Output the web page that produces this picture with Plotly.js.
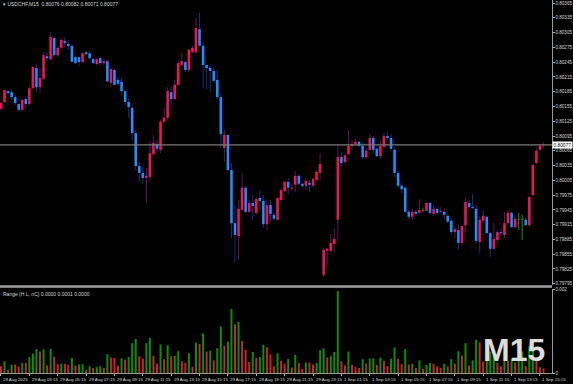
<!DOCTYPE html>
<html><head><meta charset="utf-8">
<script src="https://cdn.plot.ly/plotly-3.0.1.min.js"></script>
<style>html,body{margin:0;padding:0;background:#000;overflow:hidden}#chart{width:573px;height:384px}</style>
</head><body><div id="chart"></div>
<script>
const symbol = 'USDCHF,M15';
const timeframe = 'M15';
const opens = [0.80150,0.80164,0.80186,0.80184,0.80174,0.80160,0.80148,0.80170,0.80160,0.80192,
0.80233,0.80194,0.80211,0.80257,0.80251,0.80294,0.80259,0.80274,0.80288,0.80282,
0.80278,0.80255,0.80255,0.80245,0.80265,0.80263,0.80251,0.80241,0.80253,0.80243,
0.80247,0.80203,0.80229,0.80209,0.80205,0.80186,0.80164,0.80152,0.80101,0.80034,
0.80020,0.80010,0.80012,0.80058,0.80079,0.80067,0.80124,0.80132,0.80184,0.80170,
0.80199,0.80239,0.80245,0.80229,0.80265,0.80265,0.80312,0.80278,0.80239,0.80233,
0.80227,0.80209,0.80174,0.80071,0.80097,0.80026,0.79918,0.79892,0.79945,0.79990,
0.79941,0.79959,0.79939,0.79969,0.79963,0.79916,0.79955,0.79935,0.79925,0.79965,
0.79983,0.80002,0.79988,0.79996,0.80014,0.79998,0.79994,0.80000,0.79994,0.80006,
0.80020,0.79813,0.79862,0.79862,0.79876,0.79925,0.80052,0.80042,0.80058,0.80075,
0.80079,0.80083,0.80075,0.80052,0.80067,0.80091,0.80069,0.80054,0.80073,0.80095,
0.80091,0.80067,0.80020,0.79994,0.79990,0.79941,0.79931,0.79941,0.79939,0.79943,
0.79943,0.79959,0.79937,0.79947,0.79941,0.79941,0.79933,0.79923,0.79900,0.79904,
0.79878,0.79914,0.79959,0.79951,0.79947,0.79880,0.79923,0.79931,0.79898,0.79866,
0.79884,0.79900,0.79894,0.79918,0.79939,0.79910,0.79925,0.79925,0.79925,0.79914,
0.79975,0.80040,0.80067,0.80076];
const highs = [0.80164,0.80190,0.80188,0.80188,0.80178,0.80161,0.80170,0.80176,0.80196,0.80237,
0.80241,0.80233,0.80265,0.80265,0.80306,0.80296,0.80276,0.80294,0.80296,0.80290,
0.80280,0.80259,0.80257,0.80265,0.80267,0.80267,0.80253,0.80253,0.80255,0.80251,
0.80249,0.80232,0.80233,0.80215,0.80213,0.80190,0.80170,0.80158,0.80107,0.80042,
0.80032,0.80030,0.80085,0.80097,0.80087,0.80128,0.80152,0.80194,0.80196,0.80209,
0.80249,0.80265,0.80249,0.80272,0.80278,0.80335,0.80345,0.80286,0.80241,0.80237,
0.80233,0.80229,0.80182,0.80107,0.80099,0.80040,0.79955,0.79965,0.80020,0.79994,
0.79965,0.79975,0.79971,0.79985,0.79975,0.79965,0.79965,0.79939,0.79971,0.79990,
0.80004,0.80010,0.79998,0.80024,0.80018,0.80000,0.80010,0.80006,0.80010,0.80026,
0.80060,0.79868,0.79868,0.79896,0.79908,0.80079,0.80062,0.80058,0.80107,0.80087,
0.80089,0.80085,0.80081,0.80071,0.80099,0.80095,0.80071,0.80085,0.80101,0.80103,
0.80099,0.80073,0.80024,0.80000,0.79994,0.79945,0.79947,0.79945,0.79967,0.79949,
0.79961,0.79961,0.79955,0.79951,0.79951,0.79947,0.79935,0.79927,0.79910,0.79916,
0.79914,0.79969,0.79965,0.79977,0.79955,0.79931,0.79945,0.79933,0.79900,0.79918,
0.79904,0.79908,0.79941,0.79945,0.79941,0.79931,0.79939,0.79935,0.79929,0.79973,
0.80038,0.80071,0.80079,0.80082];
const lows = [0.80148,0.80162,0.80180,0.80168,0.80158,0.80146,0.80146,0.80152,0.80158,0.80191,
0.80184,0.80182,0.80209,0.80247,0.80249,0.80257,0.80255,0.80272,0.80274,0.80270,
0.80244,0.80241,0.80237,0.80244,0.80259,0.80251,0.80241,0.80239,0.80239,0.80239,
0.80204,0.80195,0.80197,0.80197,0.80178,0.80158,0.80132,0.80087,0.80026,0.80002,
0.79998,0.79959,0.80002,0.80056,0.80065,0.80060,0.80119,0.80128,0.80156,0.80168,
0.80197,0.80237,0.80225,0.80225,0.80263,0.80263,0.80276,0.80192,0.80190,0.80184,
0.80203,0.80170,0.80071,0.80042,0.80024,0.79888,0.79839,0.79843,0.79944,0.79939,
0.79939,0.79925,0.79935,0.79947,0.79908,0.79904,0.79921,0.79923,0.79924,0.79961,
0.79982,0.79977,0.79985,0.79981,0.79994,0.79990,0.79985,0.79981,0.79990,0.80002,
0.80006,0.79809,0.79831,0.79856,0.79858,0.79884,0.80034,0.80040,0.80056,0.80067,
0.80075,0.80073,0.80048,0.80048,0.80065,0.80060,0.80052,0.80048,0.80072,0.80087,
0.80065,0.80012,0.79990,0.79979,0.79937,0.79925,0.79925,0.79933,0.79937,0.79939,
0.79942,0.79937,0.79933,0.79935,0.79939,0.79925,0.79919,0.79894,0.79888,0.79864,
0.79872,0.79898,0.79947,0.79947,0.79876,0.79858,0.79918,0.79896,0.79849,0.79864,
0.79880,0.79892,0.79888,0.79916,0.79908,0.79906,0.79904,0.79884,0.79912,0.79910,
0.79973,0.80038,0.80065,0.80071];
const closes = [0.80162,0.80188,0.80182,0.80174,0.80162,0.80148,0.80168,0.80160,0.80192,0.80235,
0.80194,0.80213,0.80259,0.80253,0.80296,0.80259,0.80274,0.80290,0.80284,0.80278,
0.80246,0.80243,0.80245,0.80263,0.80261,0.80253,0.80243,0.80251,0.80243,0.80247,
0.80206,0.80231,0.80199,0.80201,0.80186,0.80164,0.80154,0.80101,0.80034,0.80020,
0.80010,0.80014,0.80060,0.80081,0.80069,0.80124,0.80132,0.80186,0.80170,0.80199,
0.80243,0.80247,0.80229,0.80270,0.80274,0.80314,0.80278,0.80239,0.80233,0.80227,
0.80207,0.80174,0.80099,0.80097,0.80026,0.79918,0.79894,0.79947,0.79990,0.79941,
0.79959,0.79953,0.79967,0.79963,0.79916,0.79955,0.79937,0.79927,0.79969,0.79985,
0.80002,0.79990,0.79990,0.80014,0.79998,0.79994,0.80004,0.79996,0.80008,0.80022,
0.80038,0.79864,0.79866,0.79878,0.79886,0.80052,0.80040,0.80056,0.80075,0.80079,
0.80083,0.80075,0.80052,0.80065,0.80091,0.80067,0.80054,0.80075,0.80095,0.80091,
0.80069,0.80020,0.79994,0.79987,0.79941,0.79931,0.79941,0.79937,0.79945,0.79943,
0.79959,0.79939,0.79947,0.79939,0.79943,0.79935,0.79921,0.79900,0.79906,0.79878,
0.79912,0.79961,0.79951,0.79949,0.79882,0.79925,0.79933,0.79898,0.79866,0.79886,
0.79900,0.79898,0.79918,0.79939,0.79910,0.79927,0.79925,0.79925,0.79914,0.79971,
0.80036,0.80065,0.80075,0.80077];
const timeTickIdx = [0,8,16,24,32,40,48,56,64,72,80,88,96,104,112,120,128,136,144,152];
const timeTickLabels = ['29 Aug 2025','29 Aug 03:15','29 Aug 05:15','29 Aug 07:15','29 Aug 09:15',
'29 Aug 11:15','29 Aug 13:15','29 Aug 15:15','29 Aug 17:15','29 Aug 19:15','29 Aug 21:15',
'29 Aug 23:15','1 Sep 01:15','1 Sep 03:15','1 Sep 05:15','1 Sep 07:15','1 Sep 09:15',
'1 Sep 11:15','1 Sep 13:15','1 Sep 15:15'];
const priceTicks = [0.79795,0.79825,0.79855,0.79885,0.79915,0.79945,0.79975,0.80005,0.80035,0.80065,
0.80095,0.80125,0.80155,0.80185,0.80215,0.80245,0.80275,0.80305,0.80335,0.80365];
const priceTickLabels = ['0.79795','0.79825','0.79855','0.79885','0.79915','0.79945','0.79975','0.80005','0.80035','0.80065',
'0.80095','0.80125','0.80155','0.80185','0.80215','0.80245','0.80275','0.80305','0.80335','0.80365'];
const rangeTicks = [0, 0.002];
const rangeTickLabels = ['0', '0.002'];

const BULL = '#f0145a', BEAR = '#1e8fff', DOJI = '#0a8f0a';
const BULL_WICK = '#5e1250', BEAR_WICK = '#1b2c78';
const R_UP = '#0b8f0b', R_DN = '#c42828';
const FONT = 'Liberation Sans, Arial, sans-serif';

const n = opens.length;
const idx = opens.map((_, i) => i);
const bodyBase = idx.map(i => Math.min(opens[i], closes[i]));
const bodyH = idx.map(i => Math.max(Math.abs(closes[i] - opens[i]), 0.000018));
const bodyCol = idx.map(i => closes[i] > opens[i] ? BULL : (closes[i] < opens[i] ? BEAR : DOJI));
const wickCol = idx.map(i => closes[i] > opens[i] ? BULL_WICK : (closes[i] < opens[i] ? BEAR_WICK : DOJI));
const ranges = idx.map(i => highs[i] - lows[i]);
const rangeCol = idx.map(i => (i > 0 && ranges[i] > ranges[i-1]) ? R_UP : R_DN);

const traces = [
  {type:'bar', x: idx, base: lows, y: idx.map(i => highs[i]-lows[i]), width: 0.3,
   marker:{color: wickCol, line:{width:0}}, xaxis:'x', yaxis:'y', hoverinfo:'skip'},
  {type:'bar', x: idx, base: bodyBase, y: bodyH, width: 0.72,
   marker:{color: bodyCol, line:{width:0}}, xaxis:'x', yaxis:'y', hoverinfo:'skip'},
  {type:'bar', x: idx, y: ranges, width: 0.56,
   marker:{color: rangeCol, line:{width:0}}, xaxis:'x', yaxis:'y2', hoverinfo:'skip'}
];

const H = 384, MB = 11, PH = H - MB;
const priceBottomPx = 285, indTopPx = 289;
const last = n - 1;
const lastClose = closes[last];

const annotations = [
  {xref:'paper', yref:'paper', x:0, y:1, xanchor:'left', yanchor:'top', xshift:1, yshift:1, showarrow:false,
   text:'▾ ' + symbol + '  ' + [opens[last],highs[last],lows[last],closes[last]].map(v=>v.toFixed(5)).join(' '),
   font:{family:FONT, size:5, color:'#d8d8d8'}},
  {xref:'paper', yref:'paper', x:0, y:(PH-indTopPx)/PH, xanchor:'left', yanchor:'top', xshift:1, yshift:0, showarrow:false,
   text:'Range (H L, nC) 0.0000 ' + ranges[last].toFixed(4) + ' 0.0000',
   font:{family:FONT, size:5, color:'#d8d8d8'}},
  {xref:'paper', yref:'y', x:1, y:lastClose, xanchor:'left', yanchor:'middle', xshift:0, showarrow:false,
   text: lastClose.toFixed(5), bgcolor:'#ffffff', borderpad:0.5,
   font:{family:FONT, size:4.8, color:'#000000'}},
  {xref:'paper', yref:'paper', x:514/552, y:(PH-350)/PH, xanchor:'center', yanchor:'middle', showarrow:false,
   text: '<b>' + timeframe + '</b>', font:{family:FONT, size:32, color:'#dcdcdc'}}
];
timeTickIdx.forEach((t, k) => annotations.push({
  xref:'x', yref:'paper', x:t, y:0, xanchor:'left', yanchor:'top', xshift:0.5, yshift:-1.5, showarrow:false,
  text: timeTickLabels[k], font:{family:FONT, size:4.4, color:'#d8d8d8'}
}));

const sepY = (PH - 286.5) / PH;
const layout = {
  width:573, height:384, margin:{l:0, r:21, t:0, b:MB, pad:0},
  paper_bgcolor:'#000000', plot_bgcolor:'#000000', showlegend:false, barmode:'overlay',
  font:{family:FONT, color:'#d8d8d8'},
  xaxis:{domain:[0,1], range:[-0.28, 155.4], anchor:'y2', showgrid:false, zeroline:false,
    tickmode:'array', tickvals: timeTickIdx, showticklabels:false, ticks:'outside', ticklen:2,
    tickcolor:'#b0b0b0', showline:true, linecolor:'#9a9a9a', linewidth:1, fixedrange:true},
  yaxis:{domain:[(PH-priceBottomPx)/PH, 1], range:[0.797925, 0.803711], side:'right', anchor:'x',
    showgrid:false, zeroline:false, tickmode:'array', tickvals: priceTicks, ticktext: priceTickLabels,
    ticks:'outside', ticklen:1.5, tickcolor:'#b0b0b0', showline:true, linecolor:'#9a9a9a', linewidth:1,
    tickfont:{family:FONT, size:4.6, color:'#d8d8d8'}, fixedrange:true},
  yaxis2:{domain:[0, (PH-indTopPx)/PH], range:[0, 0.002], side:'right', anchor:'x',
    showgrid:false, zeroline:false, tickmode:'array', tickvals: rangeTicks, ticktext: rangeTickLabels,
    ticks:'outside', ticklen:1.5, tickcolor:'#b0b0b0', showline:true, linecolor:'#9a9a9a', linewidth:1,
    tickfont:{family:FONT, size:4.6, color:'#d8d8d8'}, fixedrange:true},
  shapes:[
    {type:'line', xref:'paper', yref:'y', x0:0, x1:1, y0:lastClose, y1:lastClose,
     line:{color:'#7a7a7a', width:1.2}},
    {type:'line', xref:'paper', yref:'paper', x0:0, x1:1, y0:sepY, y1:sepY,
     line:{color:'#a0a0a0', width:2.5}}
  ],
  annotations: annotations
};
Plotly.newPlot('chart', traces, layout, {displayModeBar:false, staticPlot:true});
</script></body></html>
